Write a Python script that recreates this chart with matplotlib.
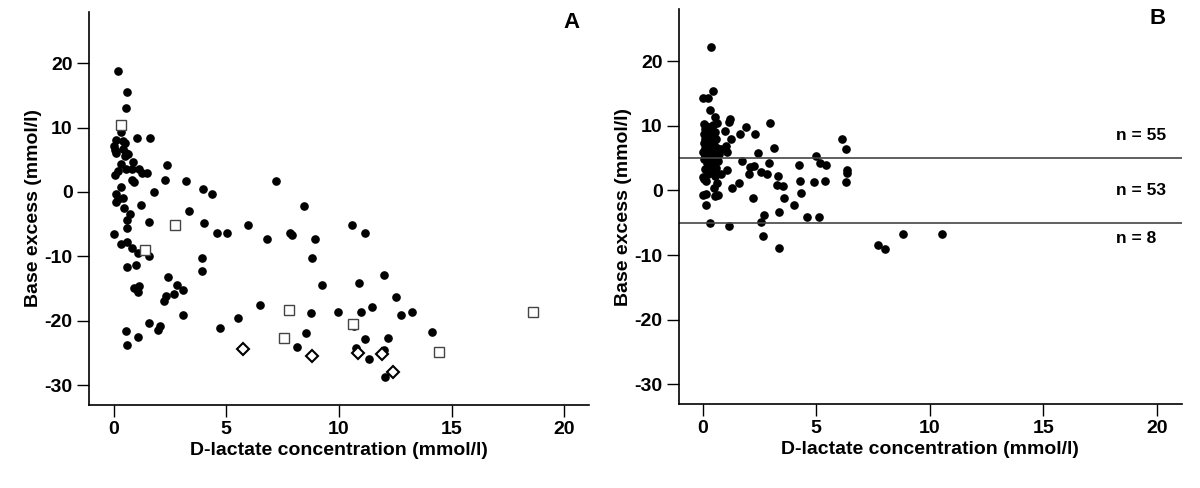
import matplotlib
matplotlib.use("Agg")
import matplotlib.pyplot as plt

plt.rcParams['font.family'] = ['Liberation Sans', 'DejaVu Sans']
plt.rcParams['font.weight'] = 'bold'
plt.rcParams['axes.unicode_minus'] = False

# panel A - filled dots
a_x = [0.19, 0.61, 0.55, 0.31, 1.02, 1.6, 0.12, 0.44, 0.50, 0.0, 0.05, 0.09, 0.42, 0.56, 0.66,
       0.49, 0.31, 0.86, 2.37, 0.55, 0.82, 1.14, 1.25, 1.48, 0.05, 0.2, 2.28, 3.2, 7.19, 0.8,
       0.9, 0.31, 1.78, 3.96, 4.36, 0.11, 0.12, 0.44, 0.19, 1.23, 0.48, 3.35, 0.71, 0.6, 0.58,
       1.57, 4.03, 4.6, 5.04, 5.97, 6.79, 0.03, 0.34, 0.61, 0.82, 1.1, 1.57, 0.6, 1.01, 3.91,
       3.94, 2.4, 0.89, 1.13, 1.08, 2.8, 3.08, 2.7, 2.31, 2.25, 6.48, 3.1, 5.51, 1.56, 2.04,
       1.99, 4.71, 0.53, 1.08, 0.58, 8.46, 7.81, 7.9, 8.96, 8.82, 10.6, 11.16, 9.26, 10.89, 12.0,
       12.53, 8.77, 9.96, 10.96, 11.47, 12.77, 13.24, 14.13, 10.69, 8.56, 11.16, 12.16, 8.15, 10.74, 12.0,
       11.35, 12.04]
a_y = [18.7, 15.5, 13.1, 9.35, 8.4, 8.4, 8.1, 7.85, 7.6, 7.2, 6.55, 6.1, 6.7, 6.05, 5.9,
       5.6, 4.4, 4.6, 4.23, 3.6, 3.6, 3.6, 3.0, 2.9, 2.7, 3.2, 1.86, 1.75, 1.75, 1.9,
       1.6, 0.7, 0.04, 0.46, -0.37, -0.3, -1.6, -0.93, -1.1, -2.1, -2.5, -2.95, -3.5, -4.3, -5.6,
       -4.7, -4.8, -6.3, -6.3, -5.2, -7.3, -6.6, -8.1, -7.7, -8.7, -9.4, -10.0, -11.6, -11.4, -10.2,
       -12.3, -13.2, -14.9, -14.6, -15.5, -14.4, -15.2, -15.8, -16.2, -17.0, -17.5, -19.1, -19.5, -20.4, -20.8,
       -21.4, -21.1, -21.6, -22.5, -23.8, -2.17, -6.3, -6.7, -7.3, -10.3, -5.2, -6.3, -14.4, -14.1, -12.9,
       -16.3, -18.8, -18.6, -18.7, -17.8, -19.1, -18.6, -21.7, -20.8, -21.9, -22.8, -22.7, -24.1, -24.2, -24.6,
       -26.0, -28.7]

# panel A - open squares and diamonds
sq_x = [0.31, 1.38, 2.74, 7.8, 7.56, 10.64, 14.43, 18.62]
sq_y = [10.4, -8.95, -5.1, -18.3, -22.6, -20.5, -24.9, -18.7]
dia_x = [5.76, 8.82, 10.84, 11.91, 12.42]
dia_y = [-24.3, -25.5, -25.0, -25.2, -27.9]

# panel B
b_x = [0.37, 0.47, 0.03, 0.25, 0.31, 0.53, 1.2, 1.15, 0.64, 2.96, 1.92, 1.0, 2.3, 1.63, 6.15,
       1.25, 6.31, 3.15, 0.82, 1.03, 1.08, 2.44, 4.99,
       0.05, 0.15, 0.3, 0.45, 0.1, 0.25, 0.4, 0.55, 0.05, 0.2, 0.35, 0.5, 0.1, 0.28, 0.42, 0.6,
       0.05, 0.18, 0.35, 0.5, 0.08, 0.25, 0.4, 0.62, 0.02, 0.15, 0.3, 0.48, 0.1, 0.22, 0.38, 0.7,
       1.72, 5.17, 5.43, 2.92, 0.53, 0.69, 2.08, 2.27, 4.26, 1.06, 6.36, 6.34, 2.05, 2.55, 2.83,
       0.81, 3.33, 0.03, 0.06, 0.52, 4.89, 5.4, 4.27, 6.31, 1.61, 3.29, 3.55, 1.3,
       0.16, 0.62, 0.51, 0.55, 0.66, 0.03, 0.15, 0.15, 2.2, 3.58, 4.34, 4.0, 3.35, 2.69, 2.57,
       4.59, 5.1,
       0.05, 0.2, 0.35, 0.1, 0.45, 0.25, 0.6, 0.4,
       0.32, 1.15, 2.66, 3.37, 7.71, 8.04, 8.84, 10.53]
b_y = [22.2, 15.4, 14.3, 14.3, 12.4, 11.3, 11.1, 10.6, 10.4, 10.5, 9.8, 9.2, 8.8, 8.7, 7.9,
       8.0, 6.4, 6.5, 6.4, 6.8, 5.9, 5.8, 5.3,
       10.2, 10.0, 9.8, 10.1, 9.5, 9.2, 9.4, 9.0, 8.8, 8.6, 8.9, 8.3, 8.0, 7.8, 7.6, 7.9,
       7.3, 7.0, 6.9, 7.1, 6.5, 6.3, 6.1, 6.5, 5.9, 5.7, 5.5, 5.8, 5.3, 5.1, 5.3, 5.6,
       4.5, 4.3, 4.0, 4.2, 4.4, 4.6, 3.6, 3.7, 4.0, 3.2, 3.2, 2.7, 2.6, 2.8, 2.5,
       2.5, 2.2, 2.0, 1.7, 2.3, 1.3, 1.4, 1.5, 1.3, 1.1, 0.8, 0.7, 0.34,
       1.4, 1.2, 0.3, -0.85, -0.7, -0.74, -0.5, -2.2, -1.15, -1.15, -0.4, -2.3, -3.3, -3.8, -4.9,
       -4.15, -4.1,
       4.8, 4.2, 3.8, 3.3, 3.0, 2.6, 3.5, 4.7,
       -5.1, -5.5, -7.0, -8.9, -8.4, -9.1, -6.7, -6.8]

cut_lines = [5, -5]
n_labels = ['n = 55', 'n = 53', 'n = 8']
n_label_y = [8.5, 0.0, -7.4]

fig = plt.figure(figsize=(12, 4.88), dpi=100)
axA = fig.add_axes([0.0738, 0.171, 0.417, 0.804])
axB = fig.add_axes([0.5656, 0.1727, 0.4192, 0.808])

axA.plot(a_x, a_y, 'o', color='black', markersize=5.2, linestyle='none')
axA.plot(sq_x, sq_y, 's', markerfacecolor='white', markeredgecolor='#444444',
         markeredgewidth=1.0, markersize=6.5, linestyle='none')
axA.plot(dia_x, dia_y, 'D', markerfacecolor='white', markeredgecolor='black',
         markeredgewidth=1.5, markersize=6.5, linestyle='none')
axA.set_xlim(-1.11, 21.1)
axA.set_ylim(-33, 27.9)

axB.plot(b_x, b_y, 'o', color='black', markersize=5.2, linestyle='none')
for yv in cut_lines:
    axB.axhline(yv, color='#444444', linewidth=1.2)
for lab, yv in zip(n_labels, n_label_y):
    axB.text(18.2, yv, lab, fontsize=12.5, fontweight='bold', va='center', ha='left')
axB.set_xlim(-1.06, 21.1)
axB.set_ylim(-33, 28)

for ax, letter, lx, ly in [(axA, 'A', 0.966, 0.973), (axB, 'B', 0.951, 0.978)]:
    ax.spines['top'].set_visible(False)
    ax.spines['right'].set_visible(False)
    ax.spines['left'].set_linewidth(1.2)
    ax.spines['bottom'].set_linewidth(1.2)
    ax.set_xticks([0, 5, 10, 15, 20])
    ax.set_yticks([-30, -20, -10, 0, 10, 20])
    ax.tick_params(direction='out', length=8.5, width=1.0, labelsize=14, pad=3)
    for t in ax.get_xticklabels() + ax.get_yticklabels():
        t.set_fontweight('bold')
    ax.set_xlabel('D-lactate concentration (mmol/l)', fontsize=14, fontweight='bold', labelpad=3)
    ax.set_ylabel('Base excess (mmol/l)', fontsize=14, fontweight='bold', labelpad=2)
    ax.text(lx, ly, letter, transform=ax.transAxes, fontsize=16, fontweight='bold',
            ha='center', va='center')

fig.savefig('out.png', dpi=100)
